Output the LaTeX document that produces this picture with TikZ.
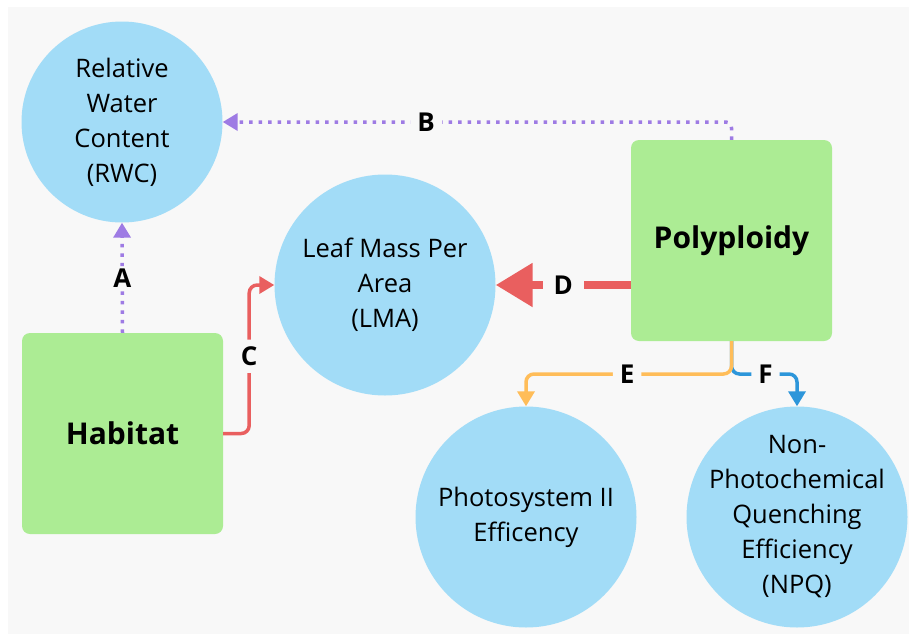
\documentclass[tikz,border=0pt]{standalone}
\usepackage{fontspec}
\setmainfont{Open Sans}
\usetikzlibrary{arrows.meta}
\definecolor{bgc}{HTML}{F8F8F8}
\definecolor{circc}{HTML}{A2DCF7}
\definecolor{boxc}{HTML}{ACEC94}
\definecolor{redc}{HTML}{E95F5F}
\definecolor{purc}{HTML}{9E7BE4}
\definecolor{orc}{HTML}{FFBD59}
\definecolor{bluc}{HTML}{2D96DA}
\tikzset{
  circ/.style={circle, fill=circc, inner sep=0pt},
  circtext/.style={inner sep=0pt, align=center, font=\fontsize{25.5}{35}\selectfont},
  greenbox/.style={rectangle, fill=boxc, rounded corners=8pt, minimum width=201pt, minimum height=201pt, inner sep=0pt, font=\fontsize{30}{36}\selectfont\bfseries},
  lbl/.style={fill=bgc, inner xsep=7pt, inner ysep=2pt, font=\fontsize{26}{28}\selectfont\bfseries},
  smalltip/.style={-{Triangle[length=15pt,width=17pt]}},
  purpline/.style={draw=purc, line width=3.5pt, dash pattern=on 3.5pt off 6pt, smalltip, rounded corners=6pt},
  redline/.style={draw=redc, line width=3.5pt, smalltip, rounded corners=8pt},
  orline/.style={draw=orc, line width=3.5pt, smalltip, rounded corners=8pt},
  bluline/.style={draw=bluc, line width=3.5pt, smalltip, rounded corners=8pt},
  thickred/.style={draw=redc, line width=8.5pt, -{Triangle[length=37pt,width=42pt]}}
}
\begin{document}
\begin{tikzpicture}[x=1pt,y=-1pt]
\useasboundingbox (0,0) rectangle (909,637);
\fill[white] (0,0) rectangle (909,637);
\fill[bgc] (8,7) rectangle (909,634);

\node[circ, minimum size=201pt] (rwc) at (122,122) {};
\node[circtext] (rwct) at (rwc.center) {Relative\\Water\\Content\\(RWC)};
\node[circ, minimum size=221pt] (lma) at (385,285) {};
\node[circtext] (lmat) at (lma.center) {Leaf Mass Per\\Area\\(LMA)};
\node[circ, minimum size=221pt] (ps) at (526,517) {};
\node[circtext] (pst) at (ps.center) {Photosystem II\\Efficency};
\node[circ, minimum size=221pt] (npq) at (797,517) {};
\node[circtext] (npqt) at (npq.center) {Non-\\Photochemical\\Quenching\\Efficiency\\(NPQ)};
\node[greenbox] (poly) at (731.5,240.5) {Polyploidy};
\node[greenbox] (hab) at (122.5,433.5) {Habitat};

\coordinate (ej) at (731.5,374);

% A
\draw[purpline] (hab.north) -- (rwc.south) node[lbl, midway] {A};
% B
\draw[purpline] (poly.north) |- (rwc.east) node[lbl, pos=0.8] {B};
% C
\draw[redline] (hab.east) -- ++(26,0) |- (lma.west) node[lbl, pos=0.26, inner xsep=2pt, inner ysep=7pt] {C};
% D
\draw[thickred] (poly.west |- lma.east) -- (lma.east) node[lbl, midway, inner xsep=11pt] {D};
% F
\draw[bluline] (poly.south) -- (ej) -| (npq.north) node[lbl, pos=0.26] {F};
% E
\draw[orline] (poly.south) -- (ej) -| (ps.north) node[lbl, pos=0.254] {E};
\end{tikzpicture}
\end{document}
